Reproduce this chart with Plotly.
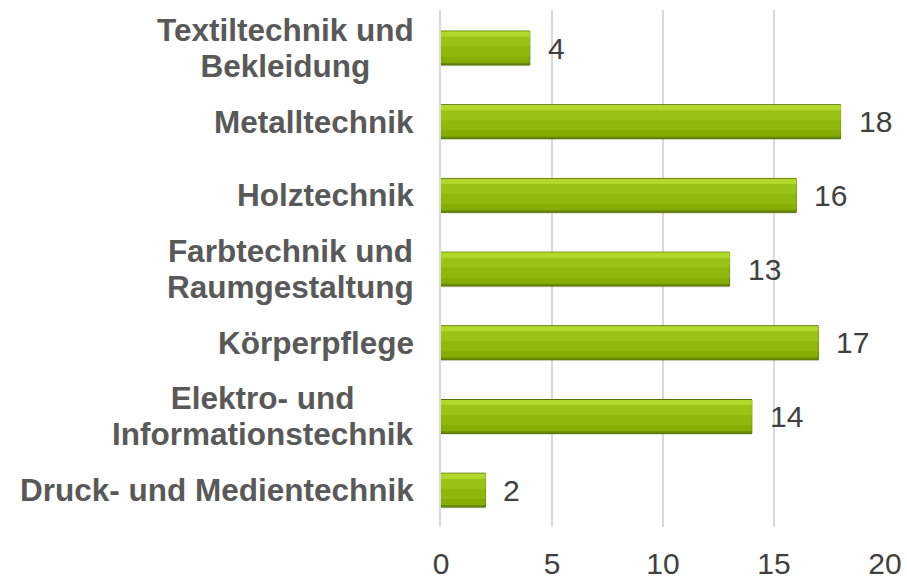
import plotly.graph_objects as go

categories = ["Textiltechnik und<br>Bekleidung", "Metalltechnik", "Holztechnik",
              "Farbtechnik und<br>Raumgestaltung", "Körperpflege",
              "Elektro- und<br>Informationstechnik", "Druck- und Medientechnik"]
values = [4, 18, 16, 13, 17, 14, 2]
x_ticks = [0, 5, 10, 15, 20]

FONT = "Liberation Sans, Arial, sans-serif"

fig = go.Figure()
# soft shadow
fig.add_trace(go.Bar(y=categories, x=values, orientation="h", width=0.46, offset=-0.21,
                     marker=dict(color="rgba(0,0,0,0.10)", line=dict(width=0)),
                     hoverinfo="skip", showlegend=False))
# layered fills imitating the vertical gradient
layers = [
    (-0.23, 0.46, "#6C8F00", dict(color="#556F00", width=1)),
    (-0.22, 0.42, "#84AD05", dict(width=0)),
    (-0.22, 0.34, "#8EB80B", dict(width=0)),
    (-0.22, 0.20, "#9AC415", dict(width=0)),
    (-0.225, 0.07, "#B2D82B", dict(width=0)),
]
for off, w, col, ln in layers:
    fig.add_trace(go.Bar(y=categories, x=values, orientation="h", width=w, offset=off,
                         marker=dict(color=col, line=ln),
                         hoverinfo="skip", showlegend=False))

annotations = []
for c in categories:
    lines = c.split("<br>")
    txt = "<br>".join("<span style='font-size:31.5px'>%s</span>" % s for s in lines)
    annotations.append(dict(x=0, xref="paper", y=c, yref="y", text=txt, showarrow=False,
                            xanchor="right", yanchor="middle", align="center", xshift=-25,
                            font=dict(family=FONT, size=27.5, color="#595959", weight="bold")))
for c, v in zip(categories, values):
    annotations.append(dict(x=v, xref="x", y=c, yref="y", text=str(v), showarrow=False,
                            xanchor="left", xshift=16,
                            font=dict(family=FONT, size=30, color="#404040")))

fig.update_layout(
    width=907, height=579,
    margin=dict(l=441, r=22, t=10, b=52, autoexpand=False),
    barmode="overlay",
    plot_bgcolor="white", paper_bgcolor="white",
    annotations=annotations,
    xaxis=dict(range=[0, 20], tickvals=x_ticks, showgrid=True, gridcolor="#D9D9D9", gridwidth=2,
               zeroline=False, showline=False, ticks="", ticklabelstandoff=16, automargin=False,
               tickfont=dict(family=FONT, size=30, color="#404040")),
    yaxis=dict(categoryorder="array", categoryarray=categories, autorange="reversed",
               showticklabels=False, showgrid=False, zeroline=False, automargin=False,
               showline=True, linecolor="#D9D9D9", linewidth=2),
)
fig.write_html("out.html", config={"displayModeBar": False},
               post_script="document.body.style.margin='0';")
